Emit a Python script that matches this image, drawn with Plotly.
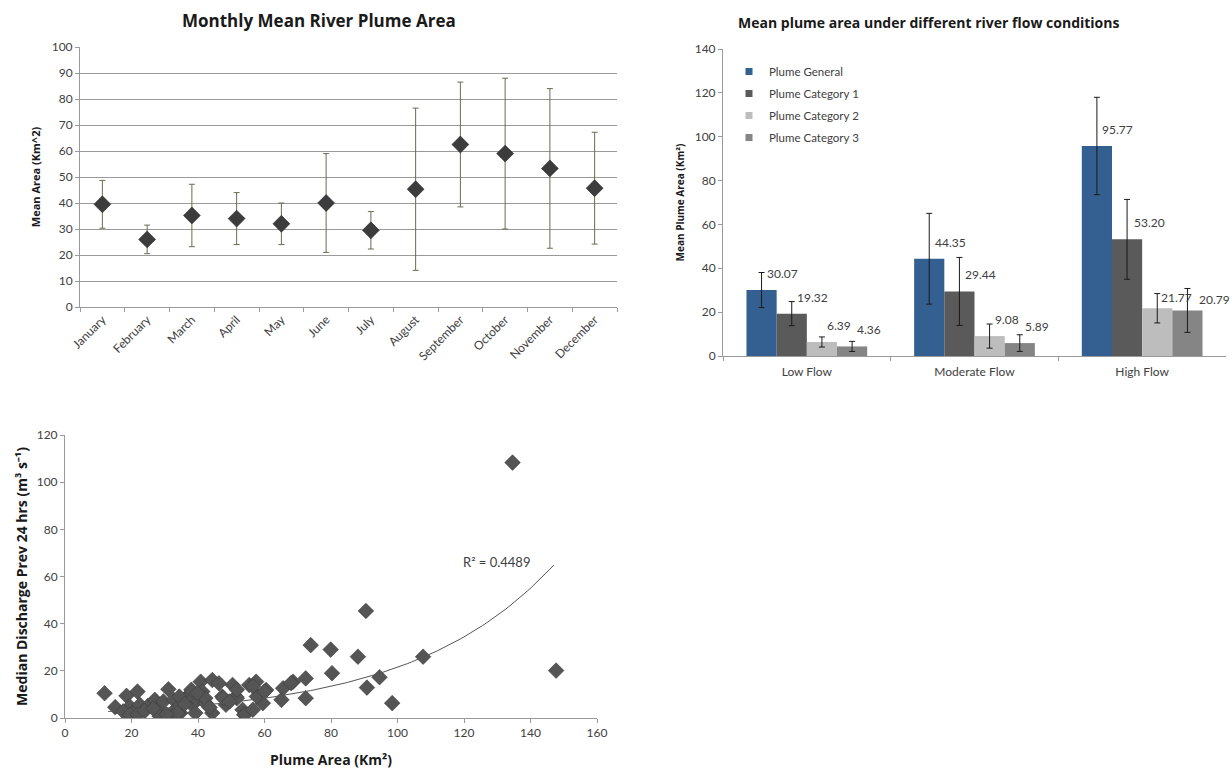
import plotly.graph_objects as go
import numpy as np

# ---------------- Data ----------------
months = ["January", "February", "March", "April", "May", "June", "July",
          "August", "September", "October", "November", "December"]
monthly_mean = [39.5, 26.0, 35.2, 34.0, 32.0, 40.0, 29.5, 45.3, 62.5, 59.0, 53.3, 45.7]
monthly_err = [9.2, 5.5, 12.0, 10.0, 8.0, 19.0, 7.2, 31.2, 24.0, 29.0, 30.7, 21.5]

flow_categories = ["Low Flow", "Moderate Flow", "High Flow"]
series_names = ["Plume General", "Plume Category 1", "Plume Category 2", "Plume Category 3"]
plume_general = [30.07, 44.35, 95.77]
plume_cat1 = [19.32, 29.44, 53.20]
plume_cat2 = [6.39, 9.08, 21.77]
plume_cat3 = [4.36, 5.89, 20.79]
err_general = [8.0, 20.7, 22.2]
err_cat1 = [5.5, 15.5, 18.2]
err_cat2 = [2.3, 5.5, 6.7]
err_cat3 = [2.3, 3.8, 10.0]

plume_area = [11.9, 15.1, 18.5, 21.8, 19.5, 17.5, 21.0, 22.5, 25.0, 27.0, 28.0, 31.1,
              29.6, 32.7, 33.7, 32.2, 34.7, 37.2, 38.2, 39.7, 40.8, 41.3, 42.3, 44.3,
              44.3, 46.3, 47.3, 48.4, 50.4, 51.4, 53.4, 53.9, 55.4, 57.5, 58.0, 59.5,
              60.5, 65.1, 65.6, 68.6, 72.4, 72.4, 73.9, 79.9, 80.3, 19.5, 21.9, 28.5,
              32.7, 33.8, 39.2, 54.1, 56.5, 37.4, 42.2, 34.4, 47.6, 51.7, 57.7, 60.0,
              56.5, 51.7, 38.0, 39.8, 24.0, 26.5, 30.5, 36.0, 43.5, 49.5, 68.0,
              88.1, 107.7, 94.6, 90.8, 98.4, 90.5, 134.6, 147.7]
median_discharge = [10.5, 4.6, 9.4, 11.2, 4.9, 2.8, 2.8, 5.6, 5.2, 7.7, 3.5, 12.2,
                    7.0, 7.7, 4.2, 2.1, 2.1, 9.8, 5.6, 7.7, 15.4, 11.2, 6.3, 16.1,
                    2.1, 14.7, 9.1, 5.6, 14.0, 9.1, 3.5, 1.4, 14.0, 15.4, 9.1, 6.3,
                    11.9, 7.7, 12.6, 15.4, 16.8, 8.4, 30.9, 29.0, 19.0, 1.4, 1.4, 0.7,
                    0.7, 2.1, 2.1, 1.4, 3.5, 9.8, 8.4, 9.1, 8.4, 8.4, 9.1, 11.2,
                    13.4, 12.0, 12.0, 10.6, 3.0, 4.0, 1.5, 6.0, 4.5, 7.0, 14.8,
                    26.0, 26.0, 17.3, 12.9, 6.3, 45.4, 108.3, 20.1]

# exponential trendline: y = a * exp(b * x)
trend_a = 2.05
trend_b = 0.0235
trend_x_range = [13, 147]
r_squared_label = "R² = 0.4489"

# ---------------- Styling ----------------
W, H = 1232, 771
FONT = "Lato"
TXT = "#404040"
bar_colors = ["#335f91", "#5a5a5a", "#bdbdbd", "#858585"]

def px_x(p):
    return p / W

def px_y(p):
    return 1 - p / H

fig = go.Figure()

# ---- Chart 1: monthly mean ----
fig.add_trace(go.Scatter(
    x=months, y=monthly_mean, mode="markers", xaxis="x", yaxis="y",
    marker=dict(symbol="diamond", size=13, color="#3c3c3c",
                line=dict(color="#262626", width=0.6)),
    error_y=dict(type="data", array=monthly_err, color="#6b6b50", thickness=1, width=3),
    showlegend=False))

# ---- Chart 2: bars ----
bar_vals = [plume_general, plume_cat1, plume_cat2, plume_cat3]
bar_errs = [err_general, err_cat1, err_cat2, err_cat3]
for name, vals, errs, col in zip(series_names, bar_vals, bar_errs, bar_colors):
    fig.add_trace(go.Bar(
        x=flow_categories, y=vals, name=name, xaxis="x2", yaxis="y2",
        marker=dict(color=col, line=dict(width=0)),
        error_y=dict(type="data", array=errs, color="#1a1a1a", thickness=1, width=3),
        legendgroup=name, showlegend=False))
    # legend entry with a small square symbol
    fig.add_trace(go.Scatter(
        x=[None], y=[None], mode="markers", name=name, xaxis="x2", yaxis="y2",
        marker=dict(symbol="square", size=7, color=col),
        legendgroup=name, showlegend=True))

# ---- Chart 3: scatter ----
fig.add_trace(go.Scatter(
    x=plume_area, y=median_discharge, mode="markers", xaxis="x3", yaxis="y3",
    marker=dict(symbol="diamond", size=12, color="#555555",
                line=dict(color="#3a3a3a", width=0.6)),
    showlegend=False))
tx = np.linspace(trend_x_range[0], trend_x_range[1], 120)
fig.add_trace(go.Scatter(
    x=tx, y=trend_a * np.exp(trend_b * tx), mode="lines", xaxis="x3", yaxis="y3",
    line=dict(color="#555555", width=1), showlegend=False, hoverinfo="skip"))

annotations = []
# bar data labels
label_dx = [[3, 3, 3, 3], [3, 3, 3, 3], [3, 5, 2, 10]]
label_dy = [[7, 7, 7, 7], [7, 7, 7, 7], [7, 7, 1, 1]]
for ci, cat in enumerate(flow_categories):
    for si, vals in enumerate(bar_vals):
        annotations.append(dict(
            x=cat, y=vals[ci], xref="x2", yref="y2", text=f"{vals[ci]:.2f}",
            showarrow=False, xanchor="left", yanchor="bottom",
            xshift=(si - 1.5) * 30 + label_dx[ci][si], yshift=label_dy[ci][si],
            font=dict(family=FONT, size=12, color=TXT)))
annotations.append(dict(x=129.8, y=66, xref="x3", yref="y3", text=r_squared_label,
                        showarrow=False, xanchor="center", yanchor="middle",
                        font=dict(family=FONT, size=13, color=TXT)))
# titles
annotations.append(dict(x=px_x(319), y=px_y(20), xref="paper", yref="paper",
                        xanchor="center", yanchor="middle",
                        text="<b>Monthly Mean River Plume Area</b>", showarrow=False,
                        font=dict(family="Open Sans", size=17, color="#1a1a1a")))
annotations.append(dict(x=px_x(928), y=px_y(22), xref="paper", yref="paper",
                        xanchor="center", yanchor="middle",
                        text="<b>Mean plume area under different river flow conditions</b>",
                        showarrow=False,
                        font=dict(family="Open Sans", size=14, color="#1a1a1a")))

axis_common = dict(showline=True, linecolor="#9a9a9a", linewidth=1, ticks="outside",
                   tickcolor="#9a9a9a", ticklen=4, zeroline=False, automargin=False,
                   tickfont=dict(family=FONT, size=12, color=TXT))

fig.update_layout(
    width=W, height=H, autosize=False,
    margin=dict(l=0, r=0, t=0, b=0, pad=0),
    paper_bgcolor="white", plot_bgcolor="white",
    font=dict(family=FONT, color=TXT),
    barmode="group", bargap=0.28, bargroupgap=0,
    annotations=annotations,
    legend=dict(x=px_x(729), y=px_y(57), xanchor="left", yanchor="top",
                bgcolor="rgba(0,0,0,0)", font=dict(family=FONT, size=11.5, color=TXT),
                tracegroupgap=3, itemwidth=30),
    xaxis=dict(domain=[px_x(80), px_x(617)], anchor="y", type="category",
               range=[-0.5, 11.5], tickangle=-45, tickson="boundaries",
               **axis_common),
    yaxis=dict(domain=[px_y(307), px_y(47)], anchor="x", range=[0, 100], dtick=10,
               showgrid=True, gridcolor="#9a9a9a", gridwidth=1,
               title=dict(text="<b>Mean Area (Km^2)</b>", font=dict(family="Open Sans", size=11, color="#1a1a1a"),
                          standoff=8),
               **axis_common),
    xaxis2=dict(domain=[px_x(723), px_x(1226)], anchor="y2", type="category",
                range=[-0.5, 2.5], tickson="boundaries", ticklabelstandoff=5,
                **axis_common),
    yaxis2=dict(domain=[px_y(356), px_y(49)], anchor="x2", range=[0, 140], dtick=20,
                showgrid=False,
                title=dict(text="<b>Mean Plume Area (Km²)</b>", font=dict(family="Open Sans", size=10, color="#1a1a1a"),
                           standoff=8),
                **axis_common),
    xaxis3=dict(domain=[px_x(65), px_x(597)], anchor="y3", range=[0, 160], dtick=20,
                showgrid=False,
                title=dict(text="<b>Plume Area (Km²)</b>", font=dict(family="Open Sans", size=14, color="#1a1a1a"),
                           standoff=15),
                **axis_common),
    yaxis3=dict(domain=[px_y(718), px_y(435)], anchor="x3", range=[0, 120], dtick=20,
                showgrid=False,
                title=dict(text="<b>Median Discharge Prev 24 hrs (m³ s⁻¹)</b>",
                           font=dict(family="Open Sans", size=14, color="#1a1a1a"), standoff=5),
                **axis_common),
)

fig.write_html("out.html", config={"displayModeBar": False},
               post_script="document.body.style.margin='0';document.body.style.overflow='hidden';")
